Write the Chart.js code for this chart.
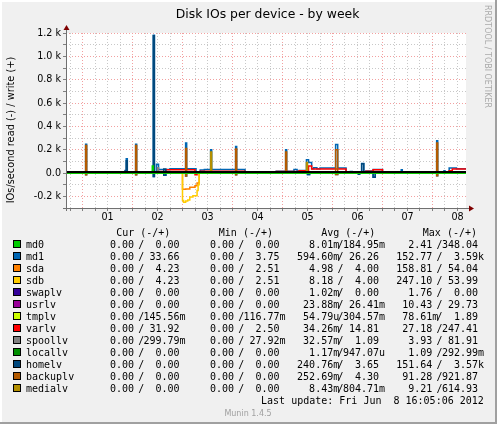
<!DOCTYPE html>
<html>
<head>
<meta charset="utf-8">
<title>Disk IOs per device - by week</title>
<script src="https://cdn.jsdelivr.net/npm/chart.js@4.4.1/dist/chart.umd.min.js"></script>
<style>
html, body { margin: 0; padding: 0; background: #f0f0f0; }
canvas { display: block; }
</style>
</head>
<body>
<canvas id="myChart" width="497" height="424" style="width:497px;height:424px"></canvas>
<script>
// time axis: hours since Fri Jun 1 00:00, graph spans May 31 16:05 -> Jun 8 16:05
const xStart = -7.92;
const xEnd = 184.08;
const xTickHours = [-6, 0, 6, 12, 18, 24, 30, 36, 42, 48, 54, 60, 66, 72, 78, 84, 90, 96,
    102, 108, 114, 120, 126, 132, 138, 144, 150, 156, 162, 168, 174, 180];
const dayNoons = [12, 36, 60, 84, 108, 132, 156, 180];
const dayLabels = ['01', '02', '03', '04', '05', '06', '07', '08'];
const yTicks = [-300, -200, -100, 0, 100, 200, 300, 400, 500, 600, 700, 800, 900, 1000, 1100, 1200];

const devices = ['md0', 'md1', 'sda', 'sdb', 'swaplv', 'usrlv', 'tmplv', 'varlv',
    'spoollv', 'locallv', 'homelv', 'backuplv', 'medialv'];
const colors = ['#00CC00', '#0066B3', '#FF8000', '#FFCC00', '#330099', '#990099', '#CCFF00',
    '#FF0000', '#808080', '#008F00', '#00487D', '#B35A00', '#B38F00'];

// [hour, IOs/s] breakpoints, each value holds until the next point
const flat = [[xStart, 0], [xEnd, 0]];
const md0Write = [[xStart, 0], [33.5, 60], [34, 0], [xEnd, 0]];
const md1Write = [[xStart, 0], [1.5, 246], [2, 0], [20.5, 22], [21, 123], [21.5, 0], [25.5, 246], [26, 0],
    [34, 1180], [34.5, 0], [35.5, 74], [36.5, 30], [42, 37], [49.5, 257], [50, 37], [54.5, 0],
    [56.5, 25], [58.5, 30], [61.5, 200], [62, 30], [73.5, 228], [74, 30], [78, 0],
    [93, 15], [97.5, 200], [98, 15], [101.5, 30], [103, 15], [104, 22], [107.5, 114], [108.5, 90],
    [110, 37], [111, 45], [112.5, 37], [114, 43], [121.5, 245], [122.5, 43], [126.5, 0],
    [128.5, 13], [129.5, 0], [134, 82], [135, 0], [136, 17], [139.5, 30], [144, 0],
    [153, 28], [153.5, 0], [170, 277], [170.5, 0], [173.5, 20], [174, 0], [176, 43], [179.5, 36], [xEnd, 36]];
const md1Read = [[xStart, 0], [1.5, 15], [2, 0], [25.5, 15], [26, 0], [34, 30], [34.5, 0], [39, 20], [40, 0],
    [49.5, 25], [50, 0], [73.5, 15], [74, 0], [108, 12], [109, 0], [121.5, 13], [122.5, 0],
    [132.5, 10], [133, 0], [139.5, 37], [140.5, 0], [170, 24], [170.5, 0], [xEnd, 0]];
const sdaRead = [[xStart, 0], [48, 140], [49.5, 137], [51.5, 123], [54, 110], [55, 86], [56, 0], [xEnd, 0]];
const sdbRead = [[xStart, 0], [48, 235], [48.5, 250], [49.5, 240], [50.5, 232], [51.5, 205], [53, 195],
    [55, 150], [55.5, 100], [56, 0], [xEnd, 0]];
const varlvWrite = [[xStart, 0], [37, 13], [40, 28], [54, 0], [56.5, 15], [78, 0], [93, 12], [104, 20],
    [108.5, 60], [110, 35], [126.5, 0], [136, 15], [139.5, 28], [144, 0], [176, 20], [177.5, 34], [xEnd, 34]];
const varlvRead = [[xStart, 0], [54, 15], [55, 0], [xEnd, 0]];
const spoollvWrite = [[xStart, 0], [36, 45], [36.5, 0], [xEnd, 0]];
const homelvWrite = [[xStart, 0], [20.5, 20], [21, 105], [21.5, 0], [34, 1177], [34.5, 0], [39, 35], [40, 0],
    [134, 80], [135, 0], [xEnd, 0]];
const homelvRead = [[xStart, 0], [34, 30], [34.5, 0], [39, 20], [40, 0], [108, 12], [109, 0],
    [132.5, 10], [133, 0], [139.5, 37], [140.5, 0], [xEnd, 0]];
const backuplvWrite = [[xStart, 0], [1.5, 236], [2, 0], [25.5, 236], [26, 0], [49.5, 210], [50, 0],
    [73.5, 205], [74, 0], [97.5, 180], [98, 0], [121.5, 200], [122.5, 0], [170, 257], [170.5, 0], [xEnd, 0]];
const backuplvRead = [[xStart, 0], [1.5, 15], [2, 0], [25.5, 15], [26, 0], [49.5, 25], [50, 0],
    [73.5, 15], [74, 0], [121.5, 13], [122.5, 0], [170, 24], [170.5, 0], [xEnd, 0]];
const medialvWrite = [[xStart, 0], [61.5, 180], [62, 0], [107.5, 90], [108, 0], [xEnd, 0]];

const writeData = [md0Write, md1Write, flat, flat, flat, flat, flat, varlvWrite,
    spoollvWrite, flat, homelvWrite, backuplvWrite, medialvWrite];
const readData = [flat, md1Read, sdaRead, sdbRead, flat, flat, flat, varlvRead,
    flat, flat, homelvRead, backuplvRead, flat];

// legend table (read / write)
const curRead = ['0.00', '0.00', '0.00', '0.00', '0.00', '0.00', '0.00', '0.00', '0.00', '0.00', '0.00', '0.00', '0.00'];
const curWrite = ['0.00', '33.66', '4.23', '4.23', '0.00', '0.00', '145.56m', '31.92', '299.79m', '0.00', '0.00', '0.00', '0.00'];
const minRead = ['0.00', '0.00', '0.00', '0.00', '0.00', '0.00', '0.00', '0.00', '0.00', '0.00', '0.00', '0.00', '0.00'];
const minWrite = ['0.00', '3.75', '2.51', '2.51', '0.00', '0.00', '116.77m', '2.50', '27.92m', '0.00', '0.00', '0.00', '0.00'];
const avgRead = ['8.01m', '594.60m', '4.98', '8.18', '1.02m', '23.88m', '54.79u', '34.26m', '32.57m', '1.17m', '240.76m', '252.69m', '8.43m'];
const avgWrite = ['184.95m', '26.26', '4.00', '4.00', '0.00', '26.41m', '304.57m', '14.81', '1.09', '947.07u', '3.65', '4.30', '804.71m'];
const maxRead = ['2.41', '152.77', '158.81', '247.10', '1.76', '10.43', '78.61m', '27.18', '3.93', '1.09', '151.64', '91.28', '9.21'];
const maxWrite = ['348.04', '3.59k', '54.04', '53.99', '0.00', '29.73', '1.89', '247.41', '81.91', '292.99m', '3.57k', '921.87', '614.93'];

const sans = '"DejaVu Sans", sans-serif';
const mono = '"DejaVu Sans Mono", monospace';
const majorGrid = '#f2a0a0';
const minorGrid = '#c8c8c8';

const datasets = [];
for (let i = 0; i < devices.length; i++) {
    // munin draws in legend order, last on top; md0 kept on top so its zero line shows
    const order = i === 0 ? 0 : devices.length - i;
    datasets.push({
        label: devices[i] + ' write',
        data: writeData[i],
        borderColor: colors[i],
        order: order
    });
    datasets.push({
        label: devices[i] + ' read',
        data: readData[i].map(p => [p[0], -p[1]]),
        borderColor: colors[i],
        order: order
    });
}

function drawValue(ctx, s, endX, y) {
    const m = s.match(/^([\d.]+)([a-zA-Z]?)$/);
    ctx.textAlign = 'right';
    ctx.fillText(m[1], endX, y);
    if (m[2]) {
        ctx.textAlign = 'left';
        ctx.fillText(m[2], endX, y);
    }
}

const muninDecor = {
    id: 'muninDecor',
    beforeDraw(chart) {
        const ctx = chart.ctx, a = chart.chartArea;
        ctx.save();
        ctx.fillStyle = '#f0f0f0';
        ctx.fillRect(0, 0, chart.width, chart.height);
        ctx.fillStyle = '#ffffff';
        ctx.fillRect(a.left, a.top, a.right - a.left, a.bottom - a.top);
        ctx.restore();
    },
    afterDatasetsDraw(chart) {
        const ctx = chart.ctx, a = chart.chartArea;
        const y0 = chart.scales.y.getPixelForValue(0);
        ctx.save();
        // zero rule
        ctx.fillStyle = '#000000';
        ctx.fillRect(a.left, Math.round(y0) - 2, a.right - a.left, 2);
        // axes
        ctx.strokeStyle = '#707070';
        ctx.lineWidth = 1;
        ctx.beginPath();
        ctx.moveTo(a.left + 0.5, a.bottom + 3);
        ctx.lineTo(a.left + 0.5, a.top - 4);
        ctx.moveTo(a.left - 3, a.bottom + 0.5);
        ctx.lineTo(a.right + 4, a.bottom + 0.5);
        ctx.stroke();
        ctx.fillStyle = '#7f0000';
        ctx.beginPath();
        ctx.moveTo(a.left - 2.5, a.top - 3);
        ctx.lineTo(a.left + 3.5, a.top - 3);
        ctx.lineTo(a.left + 0.5, a.top - 8);
        ctx.closePath();
        ctx.fill();
        ctx.beginPath();
        ctx.moveTo(a.right + 3, a.bottom - 2.5);
        ctx.lineTo(a.right + 3, a.bottom + 3.5);
        ctx.lineTo(a.right + 8, a.bottom + 0.5);
        ctx.closePath();
        ctx.fill();
        ctx.restore();
    },
    afterDraw(chart) {
        const ctx = chart.ctx, W = chart.width, H = chart.height;
        ctx.save();
        // title
        ctx.fillStyle = '#000000';
        ctx.font = '12.4px ' + sans;
        ctx.textAlign = 'center';
        ctx.textBaseline = 'alphabetic';
        ctx.fillText('Disk IOs per device - by week', 267.5, 18);
        // vertical label
        ctx.save();
        ctx.translate(14, 130);
        ctx.rotate(-Math.PI / 2);
        ctx.font = '9.8px ' + sans;
        ctx.fillText('IOs/second read (-) / write (+)', 0, 0);
        ctx.restore();
        // rrdtool watermark
        ctx.save();
        ctx.translate(484.5, 5);
        ctx.rotate(Math.PI / 2);
        ctx.font = '8px ' + sans;
        ctx.fillStyle = '#aaaaaa';
        ctx.textAlign = 'left';
        ctx.fillText('RRDTOOL / TOBI OETIKER', 0, 0);
        ctx.restore();

        // legend
        ctx.font = '10px ' + mono;
        ctx.fillStyle = '#000000';
        ctx.textAlign = 'left';
        ctx.fillText('Cur (-/+)', 116.2, 236);
        ctx.fillText('Min (-/+)', 218.8, 236);
        ctx.fillText('Avg (-/+)', 321.2, 236);
        ctx.fillText('Max (-/+)', 422.8, 236);
        const cols = [
            [curRead, curWrite, 134, 141.3, 179.6],
            [minRead, minWrite, 234, 241.3, 279.6],
            [avgRead, avgWrite, 333.2, 340.6, 379],
            [maxRead, maxWrite, 432.3, 439.6, 478]
        ];
        for (let i = 0; i < devices.length; i++) {
            const yc = 244 + 12 * i;
            const yb = yc + 4;
            ctx.fillStyle = colors[i];
            ctx.fillRect(13, yc - 4, 8, 8);
            ctx.strokeStyle = '#000000';
            ctx.lineWidth = 1;
            ctx.strokeRect(13.5, yc - 3.5, 7, 7);
            ctx.fillStyle = '#000000';
            ctx.textAlign = 'left';
            ctx.fillText(devices[i], 26, yb);
            cols.forEach(c => {
                drawValue(ctx, c[0][i], c[2], yb);
                ctx.textAlign = 'center';
                ctx.fillText('/', c[3], yb);
                drawValue(ctx, c[1][i], c[4], yb);
            });
        }
        ctx.textAlign = 'right';
        ctx.fillText('Last update: Fri Jun  8 16:05:06 2012', 483.8, 404);
        ctx.font = '8px ' + sans;
        ctx.fillStyle = '#a0a0a0';
        ctx.textAlign = 'center';
        ctx.fillText('Munin 1.4.5', 248, 416);

        // 3d frame
        ctx.fillStyle = '#ffffff';
        ctx.fillRect(0, 0, W, 2);
        ctx.fillRect(0, 0, 2, H);
        ctx.fillStyle = '#a0a0a0';
        ctx.fillRect(0, H - 2, W, 2);
        ctx.fillRect(W - 2, 0, 2, H);
        ctx.restore();
    }
};

const config = {
    type: 'line',
    data: { datasets },
    options: {
        responsive: false,
        animation: false,
        devicePixelRatio: 1,
        layout: { padding: { left: 0, top: 33, right: 31, bottom: 0 } },
        elements: {
            line: { borderWidth: 1.5, fill: false, stepped: 'before', tension: 0 },
            point: { radius: 0, hoverRadius: 0 }
        },
        plugins: { legend: { display: false }, tooltip: { enabled: false }, title: { display: false } },
        scales: {
            x: {
                type: 'linear',
                min: xStart,
                max: xEnd,
                afterBuildTicks: s => { s.ticks = xTickHours.map(v => ({ value: v })); },
                afterFit: s => { s.height = 216; },
                grid: {
                    color: c => (c.tick && c.tick.value % 24 === 0) ? majorGrid : minorGrid,
                    borderDash: [1, 2],
                    tickLength: 3,
                    tickColor: '#808080'
                },
                border: { display: false, dash: [1, 2] },
                ticks: {
                    autoSkip: false,
                    maxRotation: 0,
                    minRotation: 0,
                    padding: 1,
                    color: '#000000',
                    font: { family: sans, size: 9.6 },
                    callback: v => {
                        const k = dayNoons.indexOf(v);
                        return k >= 0 ? dayLabels[k] : '';
                    }
                }
            },
            y: {
                type: 'linear',
                min: -300,
                max: 1200,
                afterBuildTicks: s => { s.ticks = yTicks.map(v => ({ value: v })); },
                afterFit: s => { s.width = 66; },
                grid: {
                    color: c => (c.tick && c.tick.value % 200 === 0) ? majorGrid : minorGrid,
                    borderDash: [1, 2],
                    tickLength: 3,
                    tickColor: '#808080'
                },
                border: { display: false, dash: [1, 2] },
                ticks: {
                    autoSkip: false,
                    padding: 2,
                    color: '#000000',
                    font: { family: sans, size: 9.6 },
                    callback: v => {
                        if (v % 200 !== 0) return '';
                        if (v === 0) return '0.0';
                        return (v / 1000).toFixed(1) + ' k';
                    }
                }
            }
        }
    },
    plugins: [muninDecor]
};

var myChart = new Chart(document.getElementById('myChart'), config);
</script>
</body>
</html>
